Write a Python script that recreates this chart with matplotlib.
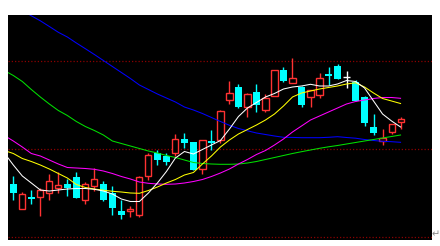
import numpy as np
import matplotlib
matplotlib.use("Agg")
import matplotlib.pyplot as plt

# --- candle data (open, high, low, close) ---
opens = [6.63, 4.15, 5.30, 5.27, 5.67, 6.23, 6.60, 7.28, 5.05, 6.45,
         6.63, 5.75, 3.90, 3.87, 3.50, 7.38, 9.73, 9.38, 9.66, 11.07,
         10.80, 8.08, 10.88, 10.98, 14.97, 16.28, 14.27, 15.78, 14.03, 15.37,
         17.98, 16.73, 16.33, 15.35, 15.55, 17.60, 18.43, 17.30, 16.83, 15.28,
         12.30, 10.92, 11.85, 12.85]
highs = [7.40, 5.83, 6.00, 6.23, 7.60, 7.80, 7.10, 7.80, 6.83, 8.20,
         6.87, 6.40, 5.00, 4.40, 7.40, 9.75, 9.98, 9.72, 11.60, 11.67,
         10.83, 11.05, 11.98, 14.00, 16.93, 16.60, 15.70, 16.58, 15.57, 17.97,
         18.30, 19.25, 16.37, 15.98, 17.68, 18.30, 18.60, 17.95, 16.97, 15.45,
         13.63, 12.08, 12.60, 13.30]
lows = [5.00, 4.15, 4.60, 3.43, 5.00, 5.73, 5.40, 5.23, 4.57, 5.95,
        4.92, 3.53, 3.12, 3.28, 3.33, 7.00, 8.48, 8.50, 9.43, 10.20,
        8.00, 7.62, 10.00, 10.70, 14.63, 14.23, 13.33, 13.83, 13.78, 15.37,
        16.80, 16.67, 14.33, 14.27, 15.23, 16.48, 17.15, 16.20, 14.93, 12.43,
        11.50, 10.53, 11.60, 12.12]
closes = [5.73, 5.58, 5.13, 6.03, 6.87, 6.48, 6.22, 5.23, 6.58, 7.07,
          5.02, 4.25, 3.55, 4.15, 7.27, 9.48, 9.03, 8.83, 11.07, 10.68,
          8.03, 10.97, 10.72, 13.90, 15.68, 14.32, 15.58, 14.52, 15.22, 17.97,
          16.93, 17.18, 14.55, 15.98, 17.18, 17.43, 17.15, 17.30, 14.93, 12.70,
          11.70, 11.18, 12.60, 13.08]

# --- moving averages, first value is one bar before the first candle ---
ma5 = [9.70, 8.50, 7.40, 6.70, 6.00, 5.90, 6.00, 6.10, 6.15, 6.15,
       6.07, 5.90, 5.60, 5.10, 4.85, 4.85, 5.70, 6.70, 7.85, 9.20,
       9.85, 9.60, 10.05, 10.50, 10.95, 12.10, 13.35, 14.20, 14.75, 15.30,
       15.65, 16.10, 16.30, 16.40, 16.57, 16.40, 16.40, 16.60, 16.95, 16.85,
       16.20, 14.90, 13.60, 12.90, 12.30]
ma10 = [9.95, 9.65, 9.15, 8.85, 8.50, 8.10, 7.65, 7.20, 6.55, 6.25,
        6.10, 5.98, 5.87, 5.80, 5.70, 5.67, 5.95, 6.30, 6.70, 7.05,
        7.50, 7.75, 8.60, 9.40, 10.30, 11.00, 11.60, 12.05, 12.50, 13.00,
        13.60, 14.40, 15.30, 15.70, 15.90, 16.10, 16.25, 16.40, 16.60, 16.72,
        16.30, 15.70, 15.15, 14.90, 14.65]
ma20 = [11.45, 10.90, 10.30, 9.65, 9.40, 9.00, 8.60, 8.25, 8.20, 8.15,
        8.07, 7.90, 7.65, 7.35, 7.10, 6.80, 6.67, 6.60, 6.57, 6.60,
        6.70, 6.85, 7.05, 7.35, 7.70, 8.10, 8.60, 9.05, 9.55, 9.95,
        10.50, 11.10, 11.80, 12.40, 13.00, 13.40, 13.80, 14.20, 14.60, 14.85,
        15.00, 15.15, 15.25, 15.25, 15.17]
ma60 = [17.95, 17.45, 16.85, 16.05, 15.30, 14.60, 13.95, 13.45, 12.85, 12.35,
        11.95, 11.50, 10.90, 10.65, 10.40, 10.15, 9.90, 9.70, 9.45, 9.25,
        9.00, 8.75, 8.65, 8.60, 8.57, 8.57, 8.60, 8.70, 8.85, 9.05,
        9.25, 9.45, 9.65, 9.83, 10.00, 10.17, 10.32, 10.45, 10.60, 10.75,
        10.90, 11.05, 11.20, 11.35, 11.50]
ma120 = [25.10, 24.50, 23.95, 23.42, 22.92, 22.35, 21.77, 21.30, 20.70, 20.13,
         19.55, 18.95, 18.35, 17.75, 17.15, 16.50, 16.05, 15.60, 15.20, 14.80,
         14.30, 14.00, 13.65, 13.25, 12.85, 12.47, 12.15, 11.92, 11.70, 11.55,
         11.40, 11.27, 11.26, 11.23, 11.23, 11.23, 11.27, 11.33, 11.25, 11.18,
         11.05, 10.95, 10.87, 10.83, 10.77]

grid_levels = [1.27, 10.07, 18.87]

UP = '#ff3232'
DOWN = '#00ffff'

fig = plt.figure(figsize=(4.4, 2.46), dpi=100, facecolor='white')
ax = fig.add_axes([8/440, 6/246, 424/440, 225/246], facecolor='black')

for g in grid_levels:
    ax.axhline(g, color='#8b0000', lw=0.9, ls=(0, (1, 1.6)), zorder=1)

n = len(opens)
w = 0.68
for i in range(n):
    o, h, l, c = opens[i], highs[i], lows[i], closes[i]
    if c > o:
        # hollow red candle, wick stops at the body
        ax.vlines(i, c, h, color=UP, lw=1, zorder=2)
        ax.vlines(i, l, o, color=UP, lw=1, zorder=2)
        ax.bar(i, c - o, bottom=o, width=w, facecolor='black',
               edgecolor=UP, lw=1, zorder=3)
    elif c < o:
        ax.vlines(i, l, h, color=DOWN, lw=1, zorder=2)
        ax.bar(i, max(o - c, 0.15), bottom=c, width=w + 0.04,
               color=DOWN, lw=0, zorder=3)
    else:
        ax.vlines(i, l, h, color='white', lw=1, zorder=2)
        ax.hlines(o, i - w/2, i + w/2, color='white', lw=1, zorder=3)

# moving average lines
xm = np.arange(-1, n)
ax.plot(xm, ma120, color='#0000ff', lw=0.75, zorder=4)
ax.plot(xm, ma60, color='#00e000', lw=0.75, zorder=4)
ax.plot(xm, ma20, color='#ff00ff', lw=0.75, zorder=4)
ax.plot(xm, ma10, color='#ffff00', lw=0.75, zorder=4)
ax.plot(xm, ma5, color='white', lw=0.75, zorder=4)

ax.set_xlim(-0.59, 46.49)
ax.set_ylim(1.0, 23.5)
ax.set_xticks([])
ax.set_yticks([])
for s in ax.spines.values():
    s.set_visible(False)

fig.text(436/440, 1 - 234/246, '\u21b5', color='#888888', fontsize=7,
         ha='center', va='center')

fig.savefig('out.png', dpi=100, facecolor='white')
